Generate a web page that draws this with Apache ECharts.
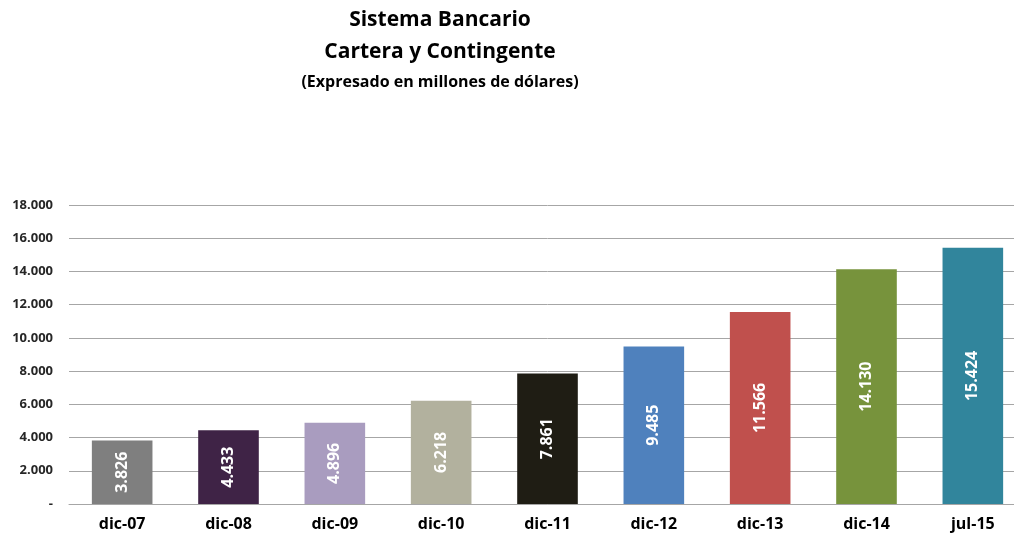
<!DOCTYPE html>
<html>
<head>
<meta charset="utf-8">
<script src="https://cdn.jsdelivr.net/npm/echarts@6/dist/echarts.min.js"></script>
<style>
  html, body { margin: 0; padding: 0; background: #fff; overflow: hidden; }
  /* el área del gráfico sigue un poco más allá del borde derecho */
  #chart { width: 1026px; height: 533px; }
</style>
</head>
<body>
<div id="chart"></div>
<script>
// periodos
var categories = ['dic-07', 'dic-08', 'dic-09', 'dic-10', 'dic-11', 'dic-12', 'dic-13', 'dic-14', 'jul-15']
// cartera y contingente (millones de dólares)
var values = [3826, 4433, 4896, 6218, 7861, 9485, 11566, 14130, 15424]
// eje y
var yTicks = [0, 2000, 4000, 6000, 8000, 10000, 12000, 14000, 16000, 18000]

var barColors = ['#7f7f7f', '#3f2346', '#a99cbf', '#b2b19e', '#1f1d14', '#4f81bd', '#c0504d', '#77933c', '#31859c']

function miles(v) {
  return String(v).replace(/\B(?=(\d{3})+(?!\d))/g, '.')
}

var chart = echarts.init(document.getElementById('chart'))
var font = 'Open Sans'

chart.setOption({
  animation: false,
  title: [
    {
      text: 'Sistema Bancario',
      left: 435, top: 5, textAlign: 'center',
      textStyle: { fontFamily: font, fontSize: 21, fontWeight: 'bold', color: '#000' }
    },
    {
      text: 'Cartera y Contingente',
      left: 435, top: 37, textAlign: 'center',
      textStyle: { fontFamily: font, fontSize: 21, fontWeight: 'bold', color: '#000' }
    },
    {
      text: '(Expresado en millones de dólares)',
      left: 435, top: 69, textAlign: 'center',
      textStyle: { fontFamily: font, fontSize: 16, fontWeight: 'bold', color: '#000' }
    }
  ],
  grid: {
    left: 69,
    right: 0,
    top: 205,
    bottom: 29
  },
  xAxis: {
    type: 'category',
    data: categories,
    axisLine: { lineStyle: { color: '#a6a6a6', width: 1 } },
    axisTick: { show: false },
    axisLabel: {
      margin: 12,
      fontFamily: font,
      fontSize: 16,
      fontWeight: 'bold',
      color: '#000'
    }
  },
  yAxis: {
    type: 'value',
    min: yTicks[0],
    max: yTicks[yTicks.length - 1],
    interval: yTicks[1] - yTicks[0],
    axisLine: { show: false },
    axisTick: { show: false },
    splitLine: { lineStyle: { color: '#a6a6a6', width: 1 } },
    axisLabel: {
      margin: 16,
      fontFamily: font,
      fontSize: 13,
      fontWeight: 'bold',
      color: '#262626',
      formatter: function (v) {
        return v === 0 ? '-' : miles(v)
      }
    }
  },
  series: [
    {
      type: 'bar',
      barCategoryGap: '43%',
      data: values.map(function (v, i) {
        return { value: v, itemStyle: { color: barColors[i] } }
      }),
      label: {
        show: true,
        position: 'inside',
        rotate: 90,
        fontFamily: font,
        fontSize: 16,
        fontWeight: 'bold',
        color: '#fff',
        formatter: function (p) {
          return miles(p.value)
        }
      }
    }
  ]
})
</script>
</body>
</html>
